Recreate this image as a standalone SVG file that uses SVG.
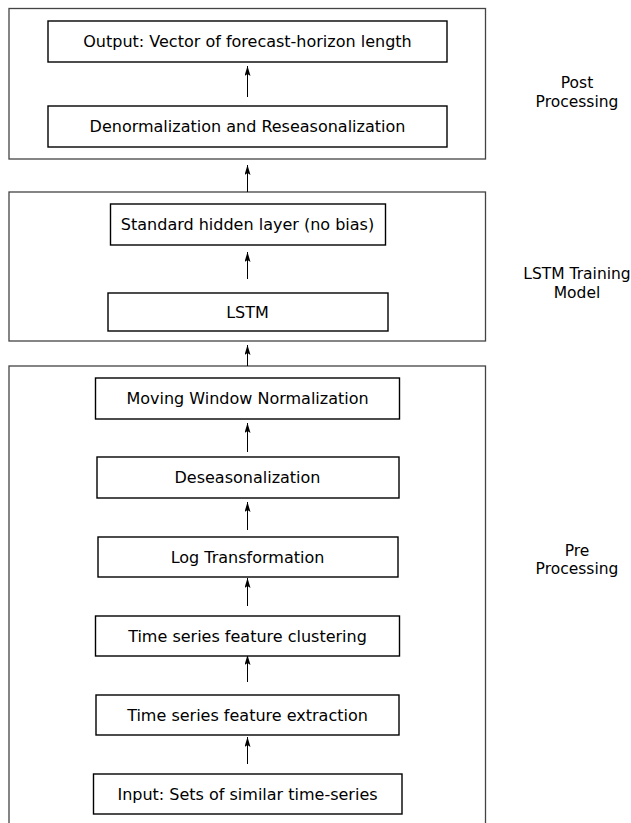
<svg xmlns="http://www.w3.org/2000/svg" width="631" height="823" viewBox="0 0 631 823">
<style>
.outer{fill:none;stroke:#444;stroke-width:1.3}
.box{fill:#fff;stroke:#000;stroke-width:1.4}
.t{font-family:"DejaVu Sans",Verdana,sans-serif;font-size:16px;fill:#000;text-anchor:middle;dominant-baseline:central}
.side{font-family:"DejaVu Sans",Verdana,sans-serif;font-size:15.5px;fill:#000;text-anchor:middle}
.c{stroke:#000;stroke-width:1;fill:none;marker-end:url(#ah)}
</style>
<defs>
<marker id="ah" viewBox="0 0 10 6" refX="10" refY="3" markerWidth="10" markerHeight="6" orient="auto" markerUnits="userSpaceOnUse">
<path d="M0,0 L10,3 L0,6 L2,3 Z" fill="#000"/>
</marker>
</defs>
<g id="stages">
<rect class="outer" x="9" y="8.5" width="476.5" height="150.5"/>
<rect class="outer" x="9" y="192" width="476.5" height="149"/>
<rect class="outer" x="9" y="366" width="476.5" height="470"/>
<text class="side" x="577" y="88">Post</text>
<text class="side" x="577" y="106.5">Processing</text>
<text class="side" x="577" y="279">LSTM Training</text>
<text class="side" x="577" y="298">Model</text>
<text class="side" x="577" y="556">Pre</text>
<text class="side" x="577" y="574">Processing</text>
</g>
<g id="connectors">
<line class="c" x1="247.5" y1="97" x2="247.5" y2="66"/>
<line class="c" x1="247.5" y1="192" x2="247.5" y2="165"/>
<line class="c" x1="247.5" y1="279" x2="247.5" y2="252"/>
<line class="c" x1="247.5" y1="366" x2="247.5" y2="345"/>
<line class="c" x1="247.5" y1="452" x2="247.5" y2="423"/>
<line class="c" x1="247.5" y1="530" x2="247.5" y2="502"/>
<line class="c" x1="247.5" y1="606" x2="247.5" y2="578"/>
<line class="c" x1="247.5" y1="682" x2="247.5" y2="655"/>
<line class="c" x1="247.5" y1="764" x2="247.5" y2="737"/>
</g>
<g id="output"><rect class="box" x="48" y="21" width="399" height="41"/><text class="t" x="247.5" y="41.5">Output: Vector of forecast-horizon length</text></g>
<g id="denorm"><rect class="box" x="48" y="106" width="399" height="41"/><text class="t" x="247.5" y="126.5">Denormalization and Reseasonalization</text></g>
<g id="hidden"><rect class="box" x="110.5" y="204" width="275" height="41"/><text class="t" x="247.5" y="224.5">Standard hidden layer (no bias)</text></g>
<g id="lstm"><rect class="box" x="108" y="293" width="280" height="38"/><text class="t" x="247.5" y="312">LSTM</text></g>
<g id="mwn"><rect class="box" x="95.5" y="378" width="304" height="41"/><text class="t" x="247.5" y="398.5">Moving Window Normalization</text></g>
<g id="deseason"><rect class="box" x="97" y="457" width="302" height="41"/><text class="t" x="247.5" y="477.5">Deseasonalization</text></g>
<g id="log"><rect class="box" x="98" y="537" width="300" height="40"/><text class="t" x="247.5" y="557">Log Transformation</text></g>
<g id="cluster"><rect class="box" x="95.5" y="616" width="304" height="40"/><text class="t" x="247.5" y="636">Time series feature clustering</text></g>
<g id="extract"><rect class="box" x="96" y="695" width="303" height="40"/><text class="t" x="247.5" y="715">Time series feature extraction</text></g>
<g id="input"><rect class="box" x="93.5" y="774" width="308.5" height="40"/><text class="t" x="247.5" y="794">Input: Sets of similar time-series</text></g>
</svg>
